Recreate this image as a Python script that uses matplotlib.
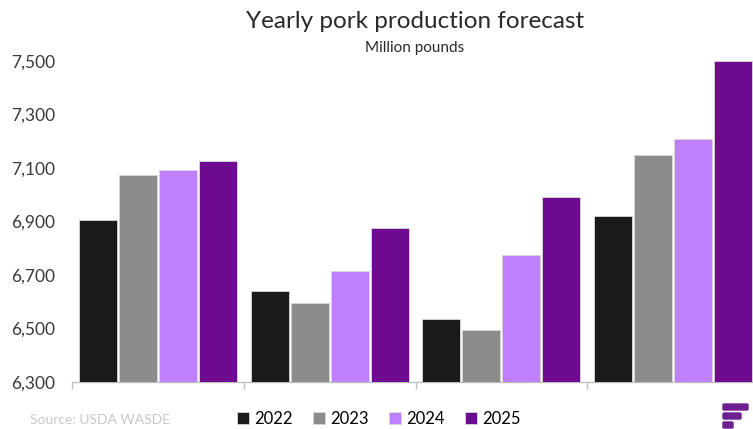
import matplotlib.pyplot as plt
import numpy as np
from matplotlib.patches import FancyBboxPatch

# dados
groups = ['Q1', 'Q2', 'Q3', 'Q4']
years = ['2022', '2023', '2024', '2025']
v2022 = [6904, 6640, 6534, 6919]
v2023 = [7074, 6595, 6493, 7150]
v2024 = [7094, 6715, 6775, 7208]
v2025 = [7128, 6874, 6992, 7500]
series = [v2022, v2023, v2024, v2025]
colors = ['#1a1a1a', '#8c8c8c', '#bf80ff', '#6e0a8f']
yticks = [6300, 6500, 6700, 6900, 7100, 7300, 7500]

plt.rcParams['font.family'] = ['Lato', 'DejaVu Sans']

fig = plt.figure(figsize=(7.53, 4.29), dpi=100)
ax = fig.add_axes([72/753, 1 - 382/429, 687/753, (382 - 61)/429])

x = np.arange(len(groups))
step = 40 / 172
width = 38 / 172
for i, (vals, c) in enumerate(zip(series, colors)):
    pos = x + 7/172 + i*step + width/2
    ax.bar(pos, vals, width=width, color=c, label=years[i], zorder=3,
           edgecolor='#d8d8d8', linewidth=0.6)

ax.set_xlim(0, 4)
ax.set_ylim(6300, 7500)
ax.set_yticks(yticks)
ax.set_yticklabels([f'{v:,}' for v in yticks], fontsize=12.5, color='#3a3a3a')
ax.set_xticks([0, 1, 2, 3, 4])
ax.set_xticklabels([])
ax.tick_params(axis='x', length=5, color='#bfbfbf', width=1)
ax.tick_params(axis='y', length=0, pad=12)
for s in ['top', 'right', 'left']:
    ax.spines[s].set_visible(False)
ax.spines['bottom'].set_color('#bfbfbf')
ax.spines['bottom'].set_linewidth(1)

fig.text(0.551, 1 - 22/429, 'Yearly pork production forecast', ha='center', va='center',
         fontsize=17.5, color='#2a2a2a')
fig.text(0.551, 1 - 48/429, 'Million pounds', ha='center', va='center',
         fontsize=11, color='#2a2a2a')
fig.text(30/753, 1 - 420/429, 'Source: USDA WASDE', ha='left', va='center',
         fontsize=10, color='#c8c8c8')

handles, labels = ax.get_legend_handles_labels()
fig.legend(handles, labels, loc='center', bbox_to_anchor=(0.503, 1 - 419/429), ncol=4,
           frameon=False, fontsize=12, handlelength=0.7, handleheight=0.7,
           handletextpad=0.3, columnspacing=1.25, borderaxespad=0)

# logo
logo_color = '#6e1f8f'
for y0, x1 in [(404, 748), (413, 741), (422, 733)]:
    fig.patches.append(FancyBboxPatch((723/753, 1 - (y0 + 6)/429), (x1 - 723)/753, 6/429,
                                      boxstyle='round,pad=0,rounding_size=0.002',
                                      transform=fig.transFigure, color=logo_color))

fig.savefig('out.png', dpi=100)
